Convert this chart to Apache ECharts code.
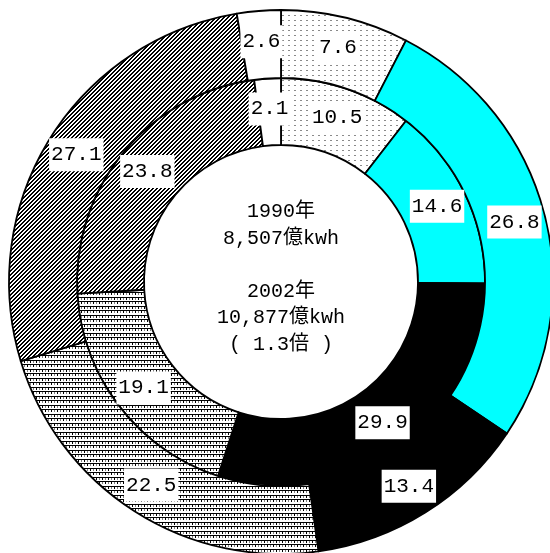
<!DOCTYPE html>
<html>
<head>
<meta charset="utf-8">
<script src="https://cdn.jsdelivr.net/npm/echarts@6/dist/echarts.min.js"></script>
<style>
html,body{margin:0;padding:0;background:#fff;}
#chart{width:550px;height:553px;}
</style>
</head>
<body>
<div id="chart"></div>
<script>
// Categories (clockwise from top); names are not displayed in the chart
const categories = ['水力', '石炭', '石油等', 'LNG', '原子力', 'その他'];
// Inner ring: 1990 shares (%)
const values1990 = [10.5, 14.6, 29.9, 19.1, 23.8, 2.1];
// Outer ring: 2002 shares (%)
const values2002 = [7.6, 26.8, 13.4, 22.5, 27.1, 2.6];
// Centre text lines
const centerLines = ['1990年', '8,507億kwh', '', '2002年', '10,877億kwh', '( 1.3倍 )'];

function tile(w, h, draw) {
  const c = document.createElement('canvas');
  c.width = w; c.height = h;
  const g = c.getContext('2d');
  g.fillStyle = '#fff';
  g.fillRect(0, 0, w, h);
  draw(g);
  return c;
}
const dotted = tile(6, 5, g => { g.fillStyle = '#8a8a8a'; g.fillRect(0, 0, 2, 1); });
const hatched = tile(4, 4, g => {
  g.fillStyle = '#000';
  for (let x = 0; x < 4; x++) for (let y = 0; y < 4; y++) if ((x + y) % 4 < 2) g.fillRect(x, y, 1, 1);
});
const brick = tile(6, 9, g => {
  g.fillStyle = '#000';
  g.fillRect(0, 0, 6, 1);
  g.fillRect(0, 1, 1, 2);
  g.fillRect(0, 4, 6, 1);
  g.fillRect(3, 5, 1, 2);
  g.fillStyle = '#808080';
  g.fillRect(3, 1, 1, 2);
  g.fillRect(0, 5, 1, 2);
});

const fills = [
  { image: dotted, repeat: 'repeat' },
  '#00FFFF',
  '#000000',
  { image: brick, repeat: 'repeat' },
  { image: hatched, repeat: 'repeat' },
  '#ffffff'
];

function buildData(vals) {
  return vals.map((v, i) => ({
    name: categories[i],
    value: v,
    itemStyle: { color: fills[i] }
  }));
}

const labelStyle = {
  show: true,
  position: 'inside',
  formatter: p => p.value.toFixed(1),
  fontFamily: 'Liberation Mono',
  fontSize: 21,
  lineHeight: 21,
  color: '#000',
  backgroundColor: '#fff',
  padding: [6, 2]
};

const chart = echarts.init(document.getElementById('chart'), null, { renderer: 'canvas' });
chart.setOption({
  animation: false,
  backgroundColor: '#fff',
  series: [
    {
      type: 'pie',
      center: [281, 282],
      radius: [137, 204],
      startAngle: 90,
      clockwise: true,
      silent: true,
      label: labelStyle,
      labelLine: { show: false },
      itemStyle: { borderColor: '#000', borderWidth: 1.8 },
      emphasis: { disabled: true },
      data: buildData(values1990)
    },
    {
      type: 'pie',
      center: [281, 282],
      radius: [204, 272],
      startAngle: 90,
      clockwise: true,
      silent: true,
      label: labelStyle,
      labelLine: { show: false },
      itemStyle: { borderColor: '#000', borderWidth: 1.8 },
      emphasis: { disabled: true },
      data: buildData(values2002)
    }
  ],
  graphic: [
    {
      type: 'text',
      x: 281,
      y: 278,
      style: {
        text: centerLines.join('\n'),
        fontFamily: 'Liberation Mono, "Noto Sans CJK JP"',
        fontSize: 20,
        lineHeight: 26.5,
        fill: '#000',
        align: 'center',
        verticalAlign: 'middle'
      }
    }
  ]
});
</script>
</body>
</html>
